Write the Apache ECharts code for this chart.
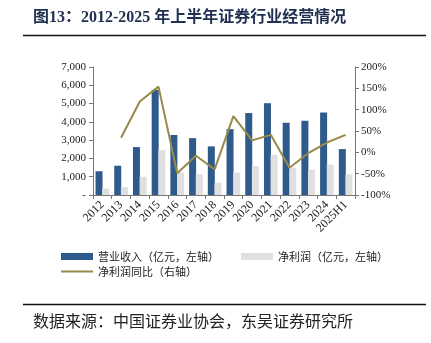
<!DOCTYPE html>
<html><head><meta charset="utf-8">
<script src="https://cdn.jsdelivr.net/npm/echarts@6/dist/echarts.min.js"></script>
<style>html,body{margin:0;padding:0;background:#fff}#c{width:431px;height:343px}</style>
</head><body><div id="c"></div>
<script>
const categories = ['2012','2013','2014','2015','2016','2017','2018','2019','2020','2021','2022','2023','2024','2025H1'];
const revenue = [1300,1600,2620,5750,3280,3110,2660,3600,4480,5020,3950,4060,4510,2510];
const netProfit = [350,440,1000,2450,1240,1130,670,1230,1580,2200,1500,1380,1670,1120];
const profitYoY = [null,34,119,154,-49,-8,-40,85,28,41,-36,-2,23,41];
const leftTicks = {min:0,max:7000,interval:1000};
const rightTicks = {min:-100,max:200,interval:50};

const serif = '"Liberation Serif","Noto Sans CJK SC",serif';
const cjk = '"Noto Sans CJK SC","Liberation Serif",sans-serif';
const chart = echarts.init(document.getElementById('c'));
chart.setOption({
  animation:false,
  backgroundColor:'#fff',
  grid:{left:93,right:76,top:67,bottom:148},
  graphic:[
    {type:'text',left:33,top:10,style:{text:'图13：2012-2025 年上半年证券行业经营情况',font:'bold 16px "Liberation Serif","Noto Sans CJK SC",serif',fill:'#1f3050'}},
    {type:'line',shape:{x1:23,y1:35.5,x2:426,y2:35.5},style:{stroke:'#111',lineWidth:1.6}},
    {type:'line',shape:{x1:23,y1:304.5,x2:426,y2:304.5},style:{stroke:'#111',lineWidth:1.6}},
    {type:'text',left:33,top:313,style:{text:'数据来源：中国证券业协会，东吴证券研究所',font:'16px '+cjk,fill:'#222'}}
  ],
  legend:[
    {left:56,top:246,itemWidth:32,itemHeight:7,itemGap:22,data:['营业收入（亿元，左轴）','净利润（亿元，左轴）'],textStyle:{fontFamily:cjk,fontSize:11,color:'#222'},icon:'rect'},
    {left:56,top:261,itemWidth:32,itemHeight:2,data:[{name:'净利润同比（右轴）',icon:'rect'}],textStyle:{fontFamily:cjk,fontSize:11,color:'#222'}}
  ],
  xAxis:{type:'category',data:categories,
    axisLine:{lineStyle:{color:'#777'}},
    axisTick:{show:true,alignWithLabel:false,length:4,lineStyle:{color:'#777'}},
    axisLabel:{rotate:45,interval:0,fontFamily:serif,fontSize:12,color:'#222',margin:8}},
  yAxis:[
    {type:'value',min:leftTicks.min,max:leftTicks.max,interval:leftTicks.interval,
      axisLine:{show:true,lineStyle:{color:'#777'}},axisTick:{show:true,length:4,inside:false,lineStyle:{color:'#777'}},
      splitLine:{show:false},
      axisLabel:{fontFamily:serif,fontSize:11,color:'#222',margin:7,formatter:v=>v===0?'-':v.toLocaleString('en-US')}},
    {type:'value',min:rightTicks.min,max:rightTicks.max,interval:rightTicks.interval,position:'right',
      axisLine:{show:true,lineStyle:{color:'#777'}},axisTick:{show:true,length:4,lineStyle:{color:'#777'}},
      splitLine:{show:false},
      axisLabel:{fontFamily:serif,fontSize:11,color:'#222',margin:6,formatter:v=>v+'%'}}
  ],
  series:[
    {name:'营业收入（亿元，左轴）',type:'bar',data:revenue,barWidth:7,barGap:'-5%',itemStyle:{color:'#2e5a8c'}},
    {name:'净利润（亿元，左轴）',type:'bar',data:netProfit,barWidth:7,itemStyle:{color:'#e0e0e0'}},
    {name:'净利润同比（右轴）',type:'line',yAxisIndex:1,data:profitYoY,symbol:'none',connectNulls:false,lineStyle:{color:'#978a4a',width:2},itemStyle:{color:'#978a4a'}}
  ]
});
</script></body></html>
